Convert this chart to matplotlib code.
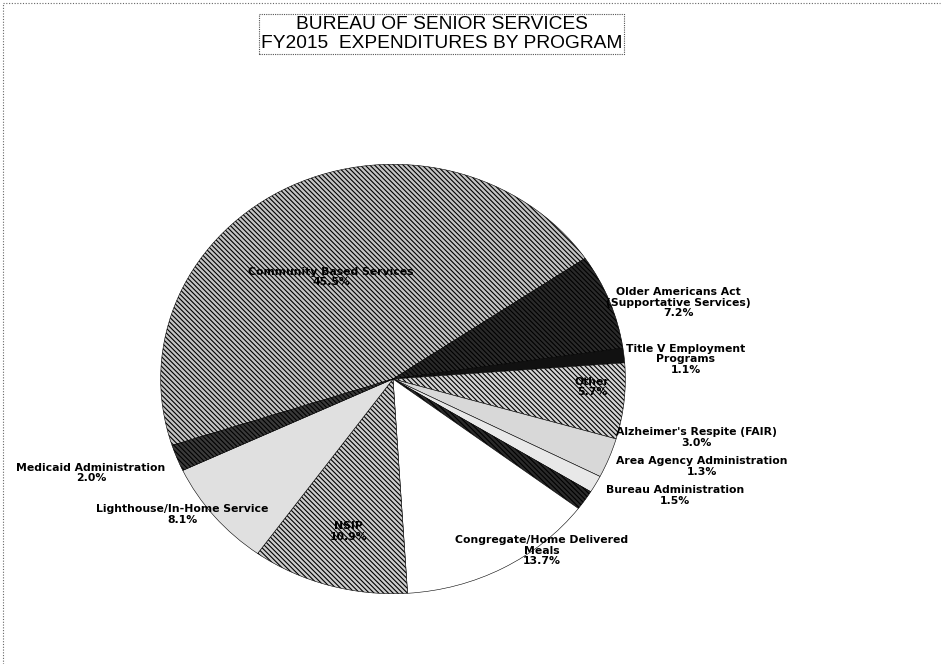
import matplotlib.pyplot as plt
from matplotlib.lines import Line2D

# Program shares (percent of FY2015 expenditures), clockwise from the big slice
programs = [
    "Community Based Services",
    "Older Americans Act\n(Supportative Services)",
    "Title V Employment\nPrograms",
    "Other",
    "Alzheimer's Respite (FAIR)",
    "Area Agency Administration",
    "Bureau Administration",
    "Congregate/Home Delivered\nMeals",
    "NSIP",
    "Lighthouse/In-Home Service",
    "Medicaid Administration",
]
shares = [45.5, 7.2, 1.1, 5.7, 3.0, 1.3, 1.5, 13.7, 10.9, 8.1, 2.0]

# Styling per slice (greyscale print look)
dense = "\\" * 7
face = ["#c4c4c4", "#2a2a2a", "#111111", "#d4d4d4", "#d8d8d8", "#e8e8e8",
        "#2a2a2a", "#ffffff", "#cdcdcd", "#e0e0e0", "#3a3a3a"]
hatches = [dense, dense, None, dense, None, None,
           dense, None, dense, None, dense]

# label anchor points in pie units (x, y)
label_pos = [(-0.266, 0.475), (1.228, 0.356), (1.26, 0.091), (0.857, -0.037),
             (1.304, -0.274), (1.329, -0.406), (1.215, -0.543), (0.641, -0.799),
             (-0.19, -0.712), (-0.907, -0.630), (-1.30, -0.438)]

plt.rcParams['font.family'] = ['DejaVu Sans']
plt.rcParams['hatch.linewidth'] = 0.8
plt.rcParams['hatch.color'] = 'black'

fig = plt.figure(figsize=(9.42, 6.64), dpi=100)
W, H = 942, 664
cx, cy, rx, ry = 393, 379, 237, 219
ax = fig.add_axes([(cx - rx) / W, (H - cy - ry) / H, 2 * rx / W, 2 * ry / H])

wedges, _ = ax.pie(shares, startangle=198, counterclock=False, radius=1,
                   colors=face,
                   wedgeprops=dict(edgecolor="#000000", linewidth=0.4))
for w, h in zip(wedges, hatches):
    if h:
        w.set_hatch(h)

ax.set_aspect('auto')
ax.set_xlim(-1.02, 1.02)
ax.set_ylim(-1.02, 1.02)
ax.axis('off')

for name, val, (x, y) in zip(programs, shares, label_pos):
    ax.text(x, y, f"{name}\n{val:.1f}%", ha="center", va="center",
            fontsize=7.8, fontweight="bold", linespacing=1.1, clip_on=False)

# Title in a dotted box
fig.text(0.469, 0.949, "BUREAU OF SENIOR SERVICES\nFY2015  EXPENDITURES BY PROGRAM",
         ha="center", va="center", fontsize=13.8, linespacing=1.15,
         family="Liberation Sans",
         bbox=dict(boxstyle="square,pad=0.1", facecolor="white",
                   edgecolor="#555555", linestyle=(0, (1, 1)), linewidth=0.8))

# dotted frame on the left and top of the chart area
frame = dict(color="#666666", linewidth=0.8, linestyle=(0, (1, 1.5)),
             transform=fig.transFigure)
fig.lines.append(Line2D([0.0035, 0.0035], [0.0, 0.995], **frame))
fig.lines.append(Line2D([0.0035, 0.998], [0.995, 0.995], **frame))

fig.savefig("out.png", dpi=100)
